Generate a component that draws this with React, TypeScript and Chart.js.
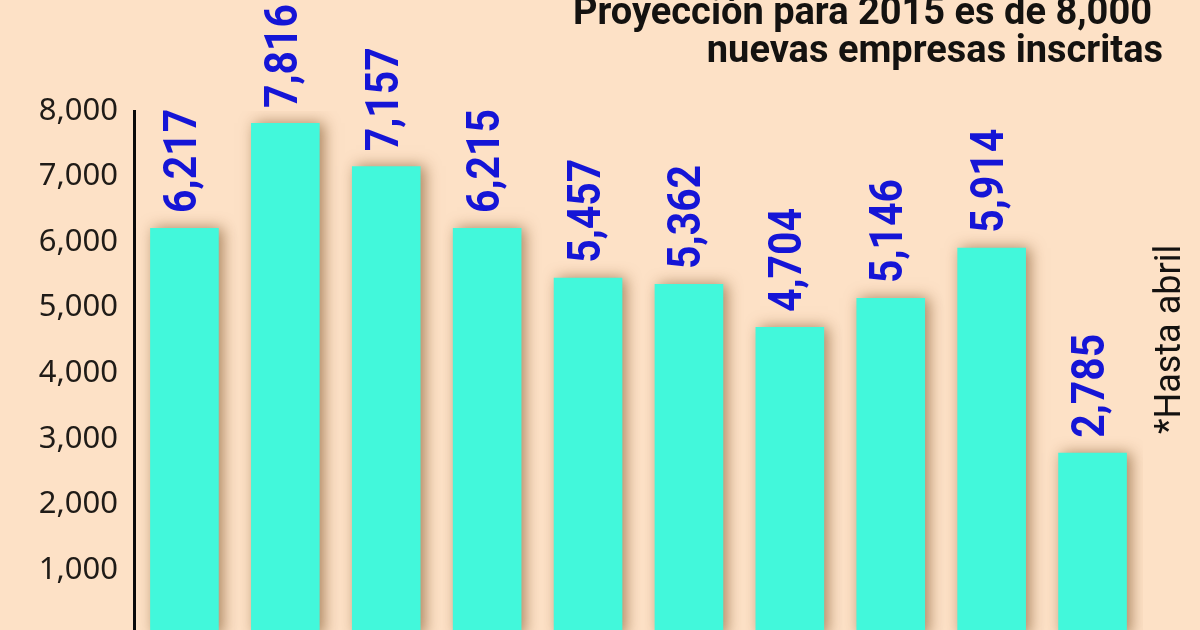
import React, { useEffect, useRef } from "react";
import { Chart, registerables } from "chart.js";

Chart.register(...registerables);

const categories = ["2006", "2007", "2008", "2009", "2010", "2011", "2012", "2013", "2014", "2015*"];
const empresas = [6217, 7816, 7157, 6215, 5457, 5362, 4704, 5146, 5914, 2785];
const yMin = 0;
const yMax = 8000;
const yStep = 1000;
const titleLines = ["Proyección para 2015 es de 8,000", "nuevas empresas inscritas"];
const noteText = "*Hasta abril";

const fmt = (v: number) => v.toLocaleString("en-US");

const decoPlugin = {
  id: "deco",
  beforeDatasetsDraw(chart: any) {
    const ctx = chart.ctx;
    ctx.save();
    ctx.shadowColor = "rgba(115,70,25,0.6)";
    ctx.shadowBlur = 14;
    ctx.shadowOffsetX = 4;
    ctx.shadowOffsetY = 0;
  },
  afterDatasetsDraw(chart: any) {
    const ctx = chart.ctx;
    ctx.restore();
    const meta = chart.getDatasetMeta(0);
    const data = chart.data.datasets[0].data as number[];
    ctx.save();
    ctx.fillStyle = "#1515d6";
    ctx.font = 'bold 46px "Roboto"';
    ctx.textAlign = "left";
    ctx.textBaseline = "middle";
    meta.data.forEach((el: any, i: number) => {
      ctx.save();
      ctx.translate(el.x, el.y - 15);
      ctx.rotate(-Math.PI / 2);
      ctx.scale(0.89, 1);
      ctx.fillText(fmt(data[i]), 0, 0);
      ctx.restore();
    });
    ctx.restore();
  },
  afterDraw(chart: any) {
    const ctx = chart.ctx;
    ctx.save();
    ctx.fillStyle = "#141210";
    ctx.font = 'bold 38px "Roboto"';
    ctx.textAlign = "right";
    ctx.textBaseline = "alphabetic";
    ctx.fillText(titleLines[0], 1152, 24);
    ctx.fillText(titleLines[1], 1163, 62);
    ctx.font = '36px "Roboto"';
    ctx.textAlign = "left";
    ctx.translate(1180, 434);
    ctx.rotate(-Math.PI / 2);
    ctx.fillText(noteText, 0, 0);
    ctx.restore();
  },
};

export default function App() {
  const ref = useRef<HTMLCanvasElement | null>(null);
  useEffect(() => {
    if (!ref.current) return;
    const chart = new Chart(ref.current, {
      type: "bar",
      data: {
        labels: categories,
        datasets: [
          {
            data: empresas,
            backgroundColor: "#42f8db",
            borderWidth: 0,
            barPercentage: 0.68,
            categoryPercentage: 1,
          },
        ],
      },
      options: {
        animation: false,
        responsive: false,
        maintainAspectRatio: false,
        layout: { padding: { top: 111, bottom: 25, right: 57, left: 0 } },
        plugins: { legend: { display: false }, tooltip: { enabled: false }, title: { display: false } },
        scales: {
          x: { display: false },
          y: {
            min: yMin,
            max: yMax,
            afterFit: (s: any) => {
              s.width = 134;
            },
            grid: { display: false, drawTicks: false },
            border: { display: true, color: "#0a0a0a", width: 3 },
            ticks: {
              stepSize: yStep,
              padding: 16,
              color: "#1f1b17",
              font: { family: "Noto Sans", size: 31 },
              callback: (v: any) => (Number(v) === 0 ? "" : fmt(Number(v))),
            },
          },
        },
      },
      plugins: [decoPlugin],
    });
    return () => chart.destroy();
  }, []);
  return (
    <div
      style={{
        position: "fixed",
        left: 0,
        top: 0,
        width: 1200,
        height: 630,
        overflow: "hidden",
        background: "#fde1c6",
      }}
    >
      <canvas ref={ref} width={1200} height={670} style={{ display: "block" }} />
    </div>
  );
}
